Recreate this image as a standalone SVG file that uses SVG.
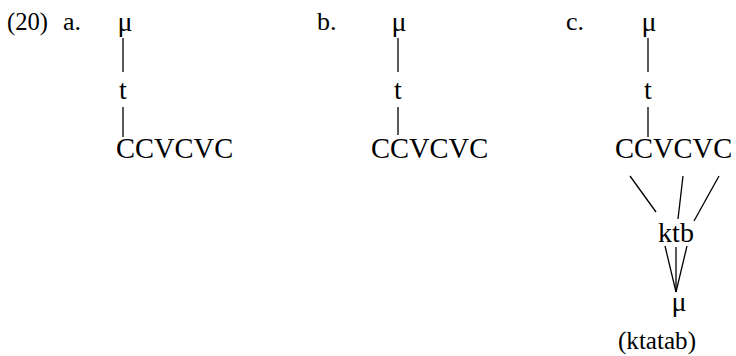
<svg xmlns="http://www.w3.org/2000/svg" width="736" height="356" viewBox="0 0 736 356">
  <style>
    text { font-family: "Liberation Serif", "Times New Roman", serif; font-size: 28px; fill: #000; }
    .lab { font-size: 26px; }
    .mid { text-anchor: middle; }
    .skel { font-size: 28.5px; }
    .gloss { font-size: 26px; }
    .edge { stroke: #000; stroke-width: 1.3; fill: none; }
  </style>
  <rect width="736" height="356" fill="#fff"/>

  <g id="labels">
    <text class="lab" x="7" y="30" textLength="41" lengthAdjust="spacingAndGlyphs">(20)</text>
    <text class="lab" x="63" y="30">a.</text>
    <text class="lab" x="317" y="30">b.</text>
    <text class="lab" x="566" y="30">c.</text>
  </g>

  <!-- (a) -->
  <g id="a-mu"><text class="mid" x="125" y="31">μ</text></g>
  <g id="a-t"><text class="mid" x="123" y="99">t</text></g>
  <g id="a-skel"><text class="skel" x="116" y="158">CCVCVC</text></g>

  <!-- (b) -->
  <g id="b-mu"><text class="mid" x="399" y="31">μ</text></g>
  <g id="b-t"><text class="mid" x="398" y="99">t</text></g>
  <g id="b-skel"><text class="skel" x="371" y="158">CCVCVC</text></g>

  <!-- (c) -->
  <g id="c-mu"><text class="mid" x="649" y="31">μ</text></g>
  <g id="c-t"><text class="mid" x="648" y="99">t</text></g>
  <g id="c-skel"><text class="skel" x="615" y="158">CCVCVC</text></g>
  <g id="c-root"><text class="mid" x="676" y="242">ktb</text></g>
  <g id="c-mu2"><text class="mid" x="679" y="311">μ</text></g>
  <g id="c-gloss"><text class="gloss" x="618" y="349" textLength="78" lengthAdjust="spacingAndGlyphs">(ktatab)</text></g>

  <g id="connectors" class="edge">
    <line x1="123" y1="38" x2="123" y2="72"/>
    <line x1="123" y1="107" x2="123" y2="137"/>
    <line x1="398" y1="38" x2="398" y2="72"/>
    <line x1="398" y1="107" x2="398" y2="135"/>
    <line x1="648" y1="38" x2="648" y2="72"/>
    <line x1="648" y1="107" x2="648" y2="137"/>
    <line x1="630" y1="176" x2="656" y2="212"/>
    <line x1="683" y1="176" x2="678" y2="219"/>
    <line x1="719" y1="176" x2="694" y2="221"/>
    <line x1="665" y1="246" x2="676" y2="292"/>
    <line x1="676" y1="247" x2="676" y2="292"/>
    <line x1="687" y1="246" x2="676" y2="292"/>
  </g>
</svg>
